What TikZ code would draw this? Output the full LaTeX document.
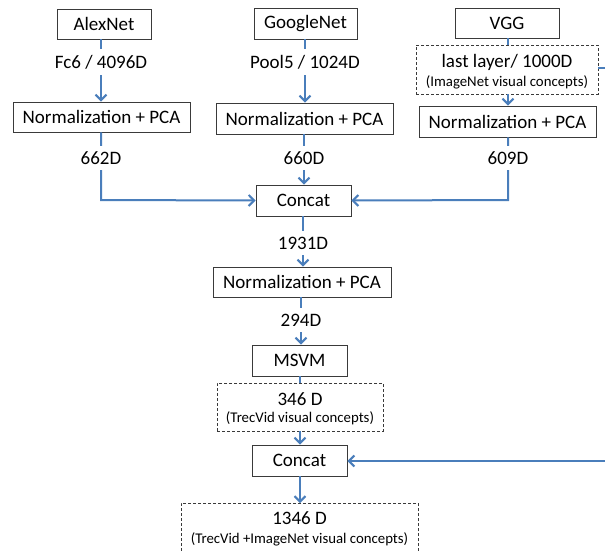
\documentclass[tikz,border=0pt]{standalone}
\usepackage{fontspec}
\setmainfont{Carlito}
\usetikzlibrary{arrows.meta}
\definecolor{arr}{HTML}{4A7EBB}
\definecolor{bx}{HTML}{3A3A3A}
\newcommand{\bigt}{\fontsize{19}{22}\selectfont}
\newcommand{\smallt}{\fontsize{14.8}{17}\selectfont}
\tikzset{
  box/.style={draw=bx, line width=0.9pt, fill=white, inner sep=0pt, font=\bigt},
  dbox/.style={draw=bx, dashed, dash pattern=on 3pt off 2pt, line width=0.9pt, fill=white, inner sep=0pt},
  txt/.style={inner sep=0pt},
  lbl/.style={fill=white, inner xsep=3pt, inner ysep=6pt, font=\bigt},
  conn/.style={draw=arr, line width=2pt},
  arrow/.style={conn, -{Straight Barb[length=5.5pt,width=11pt,line width=2pt]}},
}
\begin{document}
\begin{tikzpicture}[x=1pt,y=-1pt]
\useasboundingbox (0,0) rectangle (605,550);
\clip (0,0) rectangle (605,550);
% boxes
\node[box, minimum width=94pt, minimum height=30pt] (alex) at (104,24) {AlexNet};
\node[box, minimum width=103pt, minimum height=31pt] (goog) at (305.5,23.5) {GoogleNet};
\node[box, minimum width=104pt, minimum height=30pt] (vgg) at (507,23) {VGG};
\node[dbox, minimum width=182pt, minimum height=49pt] (last) at (507,69.5) {};
\node[txt, font=\bigt] (tlast) at (507,62) {last layer/ 1000D};
\node[txt, font=\smallt] (tlastsub) at (507,82) {(ImageNet visual concepts)};
\node[box, minimum width=177pt, minimum height=30pt] (n1) at (101.5,117) {Normalization + PCA};
\node[box, minimum width=177pt, minimum height=31pt] (n2) at (304.5,118.5) {Normalization + PCA};
\node[box, minimum width=177pt, minimum height=31pt] (n3) at (507.5,121.5) {Normalization + PCA};
\node[box, minimum width=95pt, minimum height=31pt] (cat1) at (303.5,200.5) {Concat};
\node[box, minimum width=178pt, minimum height=30pt] (n4) at (302,282) {Normalization + PCA};
\node[box, minimum width=95pt, minimum height=31pt] (msvm) at (299.5,360.5) {MSVM};
\node[dbox, minimum width=166pt, minimum height=48pt] (v346) at (300,407) {};
\node[txt, font=\bigt] (t346) at (300,399) {346 D};
\node[txt, font=\smallt] (t346sub) at (300,418) {(TrecVid visual concepts)};
\node[box, minimum width=95pt, minimum height=31pt] (cat2) at (299.5,460.5) {Concat};
\node[dbox, minimum width=237pt, minimum height=56pt, anchor=north] (v1346) at (299.5,503) {};
\node[txt, font=\bigt] (t1346) at (299.5,518) {1346 D};
\node[txt, font=\smallt] (tsub) at (299.5,539) {(TrecVid +ImageNet visual concepts)};
% coordinates
\coordinate (a1) at (101,200);
\coordinate (a3) at (508,200);
\coordinate (r1) at (620,68);
\coordinate (r2) at (620,461);
% connectors with labels
\draw[arrow] (alex.south -| a1) -- (n1.north -| a1);
\node[lbl] (fc6) at (101,62) {Fc6 / 4096D};
\draw[arrow] (goog.south -| 305,0) -- (n2.north -| 305,0);
\node[lbl] (pool5) at (305,62) {Pool5 / 1024D};
\draw[conn] (vgg.south -| 508,0) -- (last.north -| 508,0);
\draw[arrow] (last.south -| 508,0) -- (n3.north -| 508,0);
\draw[arrow] (n1.south -| a1) -- (a1) -- (cat1.west);
\node[lbl] (d662) at (101,158) {662D};
\draw[arrow] (n2.south -| 304,0) -- (cat1.north -| 304,0);
\node[lbl] (d660) at (304,158) {660D};
\draw[arrow] (n3.south -| a3) -- (a3) -- (cat1.east);
\node[lbl] (d609) at (508,158) {609D};
\draw[arrow] (cat1.south -| 303,0) -- (n4.north -| 303,0);
\node[lbl] (d1931) at (303,243) {1931D};
\draw[arrow] (n4.south -| 301,0) -- (msvm.north -| 301,0);
\node[lbl] (d294) at (301,320) {294D};
\draw[conn] (msvm.south -| 300,0) -- (v346.north -| 300,0);
\draw[arrow] (v346.south -| 300,0) -- (cat2.north -| 300,0);
\draw[arrow] (cat2.south -| 300,0) -- (v1346.north -| 300,0);
\draw[conn] (last.east |- r1) -- (r1) -- (r2);
\draw[arrow] (r2) -- (cat2.east |- r2);
\end{tikzpicture}
\end{document}
